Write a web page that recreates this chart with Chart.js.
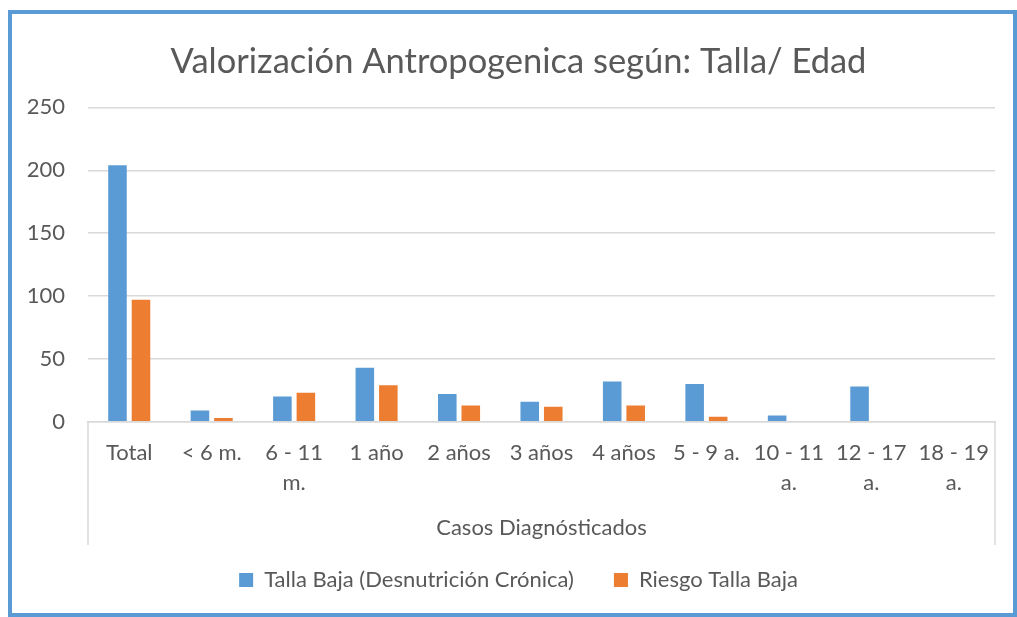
<!DOCTYPE html>
<html>
<head>
<meta charset="utf-8">
<script src="https://cdn.jsdelivr.net/npm/chart.js@4/dist/chart.umd.min.js"></script>
<style>
  body { margin: 0; background: #fff; }
  #wrap { position: relative; width: 1017px; height: 617px; overflow: hidden; }
  #frame { position: absolute; left: 8px; top: 10px; width: 1009px; height: 607px; border: 4px solid #5b9bd5; box-sizing: border-box; }
  canvas { position: absolute; left: 0; top: 0; }
</style>
</head>
<body>
<div id="wrap">
  <div id="frame"></div>
  <canvas id="myChart" width="1017" height="617"></canvas>
</div>
<script>
// datos
var categorias = ['Total', '< 6 m.', ['6 - 11', 'm.'], '1 año', '2 años', '3 años', '4 años', '5 - 9 a.', ['10 - 11', 'a.'], ['12 - 17', 'a.'], ['18 - 19', 'a.']];
var tallaBaja = [204, 9, 20, 43, 22, 16, 32, 30, 5, 28, 0];
var riesgoTallaBaja = [97, 3, 23, 29, 13, 12, 13, 4, 0, 0, 0];
var ticksY = [0, 50, 100, 150, 200, 250];

var fuente = 'Lato, "Liberation Sans", sans-serif';
var gris = '#595959';

// lineas verticales del eje de categorias (como en Excel)
var cajaEje = {
  id: 'cajaEje',
  afterDraw: function (chart) {
    var ctx = chart.ctx;
    var a = chart.chartArea;
    ctx.save();
    ctx.strokeStyle = '#d9d9d9';
    ctx.lineWidth = 1.5;
    ctx.beginPath();
    ctx.moveTo(a.left, a.bottom);
    ctx.lineTo(a.left, 545);
    ctx.moveTo(a.right, a.bottom);
    ctx.lineTo(a.right, 545);
    ctx.stroke();
    ctx.restore();
  }
};

var ctx = document.getElementById('myChart').getContext('2d');
var chart = new Chart(ctx, {
  type: 'bar',
  data: {
    labels: categorias,
    datasets: [{
      label: 'Talla Baja (Desnutrición Crónica)',
      backgroundColor: '#5b9bd5',
      data: tallaBaja
    }, {
      label: 'Riesgo Talla Baja',
      backgroundColor: '#ed7d31',
      data: riesgoTallaBaja
    }]
  },
  options: {
    responsive: false,
    animation: false,
    // padding derecho negativo + eje vacio a la derecha: centra titulo y leyenda como en Excel
    layout: { padding: { left: 10, right: -10, top: 16, bottom: 16 } },
    datasets: { bar: { categoryPercentage: 0.57, barPercentage: 0.79 } },
    plugins: {
      title: {
        display: true,
        text: 'Valorización Antropogenica según: Talla/ Edad',
        color: gris,
        font: { family: fuente, size: 34.5, weight: 'normal' },
        padding: { top: 25, bottom: 25 }
      },
      legend: {
        position: 'bottom',
        labels: {
          color: gris,
          font: { family: fuente, size: 22 },
          boxWidth: 14,
          boxHeight: 14,
          padding: 40
        }
      },
      tooltip: { enabled: false }
    },
    scales: {
      x: {
        grid: { display: false, drawTicks: false },
        border: { display: true, color: '#d9d9d9', width: 1.5 },
        ticks: {
          color: gris,
          font: { family: fuente, size: 22, lineHeight: 1.36 },
          padding: 16,
          maxRotation: 0,
          autoSkip: false
        },
        title: {
          display: true,
          text: 'Casos Diagnósticados',
          color: gris,
          font: { family: fuente, size: 22 },
          padding: { top: 1, bottom: -12 }
        }
      },
      y: {
        min: 0,
        max: 250,
        afterBuildTicks: function (s) { s.ticks = ticksY.map(function (v) { return { value: v }; }); },
        afterFit: function (s) { s.width = 78; },
        grid: { color: '#d9d9d9', lineWidth: 1.5, drawTicks: false },
        border: { display: false },
        ticks: {
          color: gris,
          font: { family: fuente, size: 22 },
          padding: 23
        }
      },
      derecha: {
        type: 'linear',
        position: 'right',
        afterFit: function (s) { s.width = 32; },
        grid: { display: false, drawTicks: false },
        border: { display: false },
        ticks: { display: false }
      }
    }
  },
  plugins: [cajaEje]
});
</script>
</body>
</html>
